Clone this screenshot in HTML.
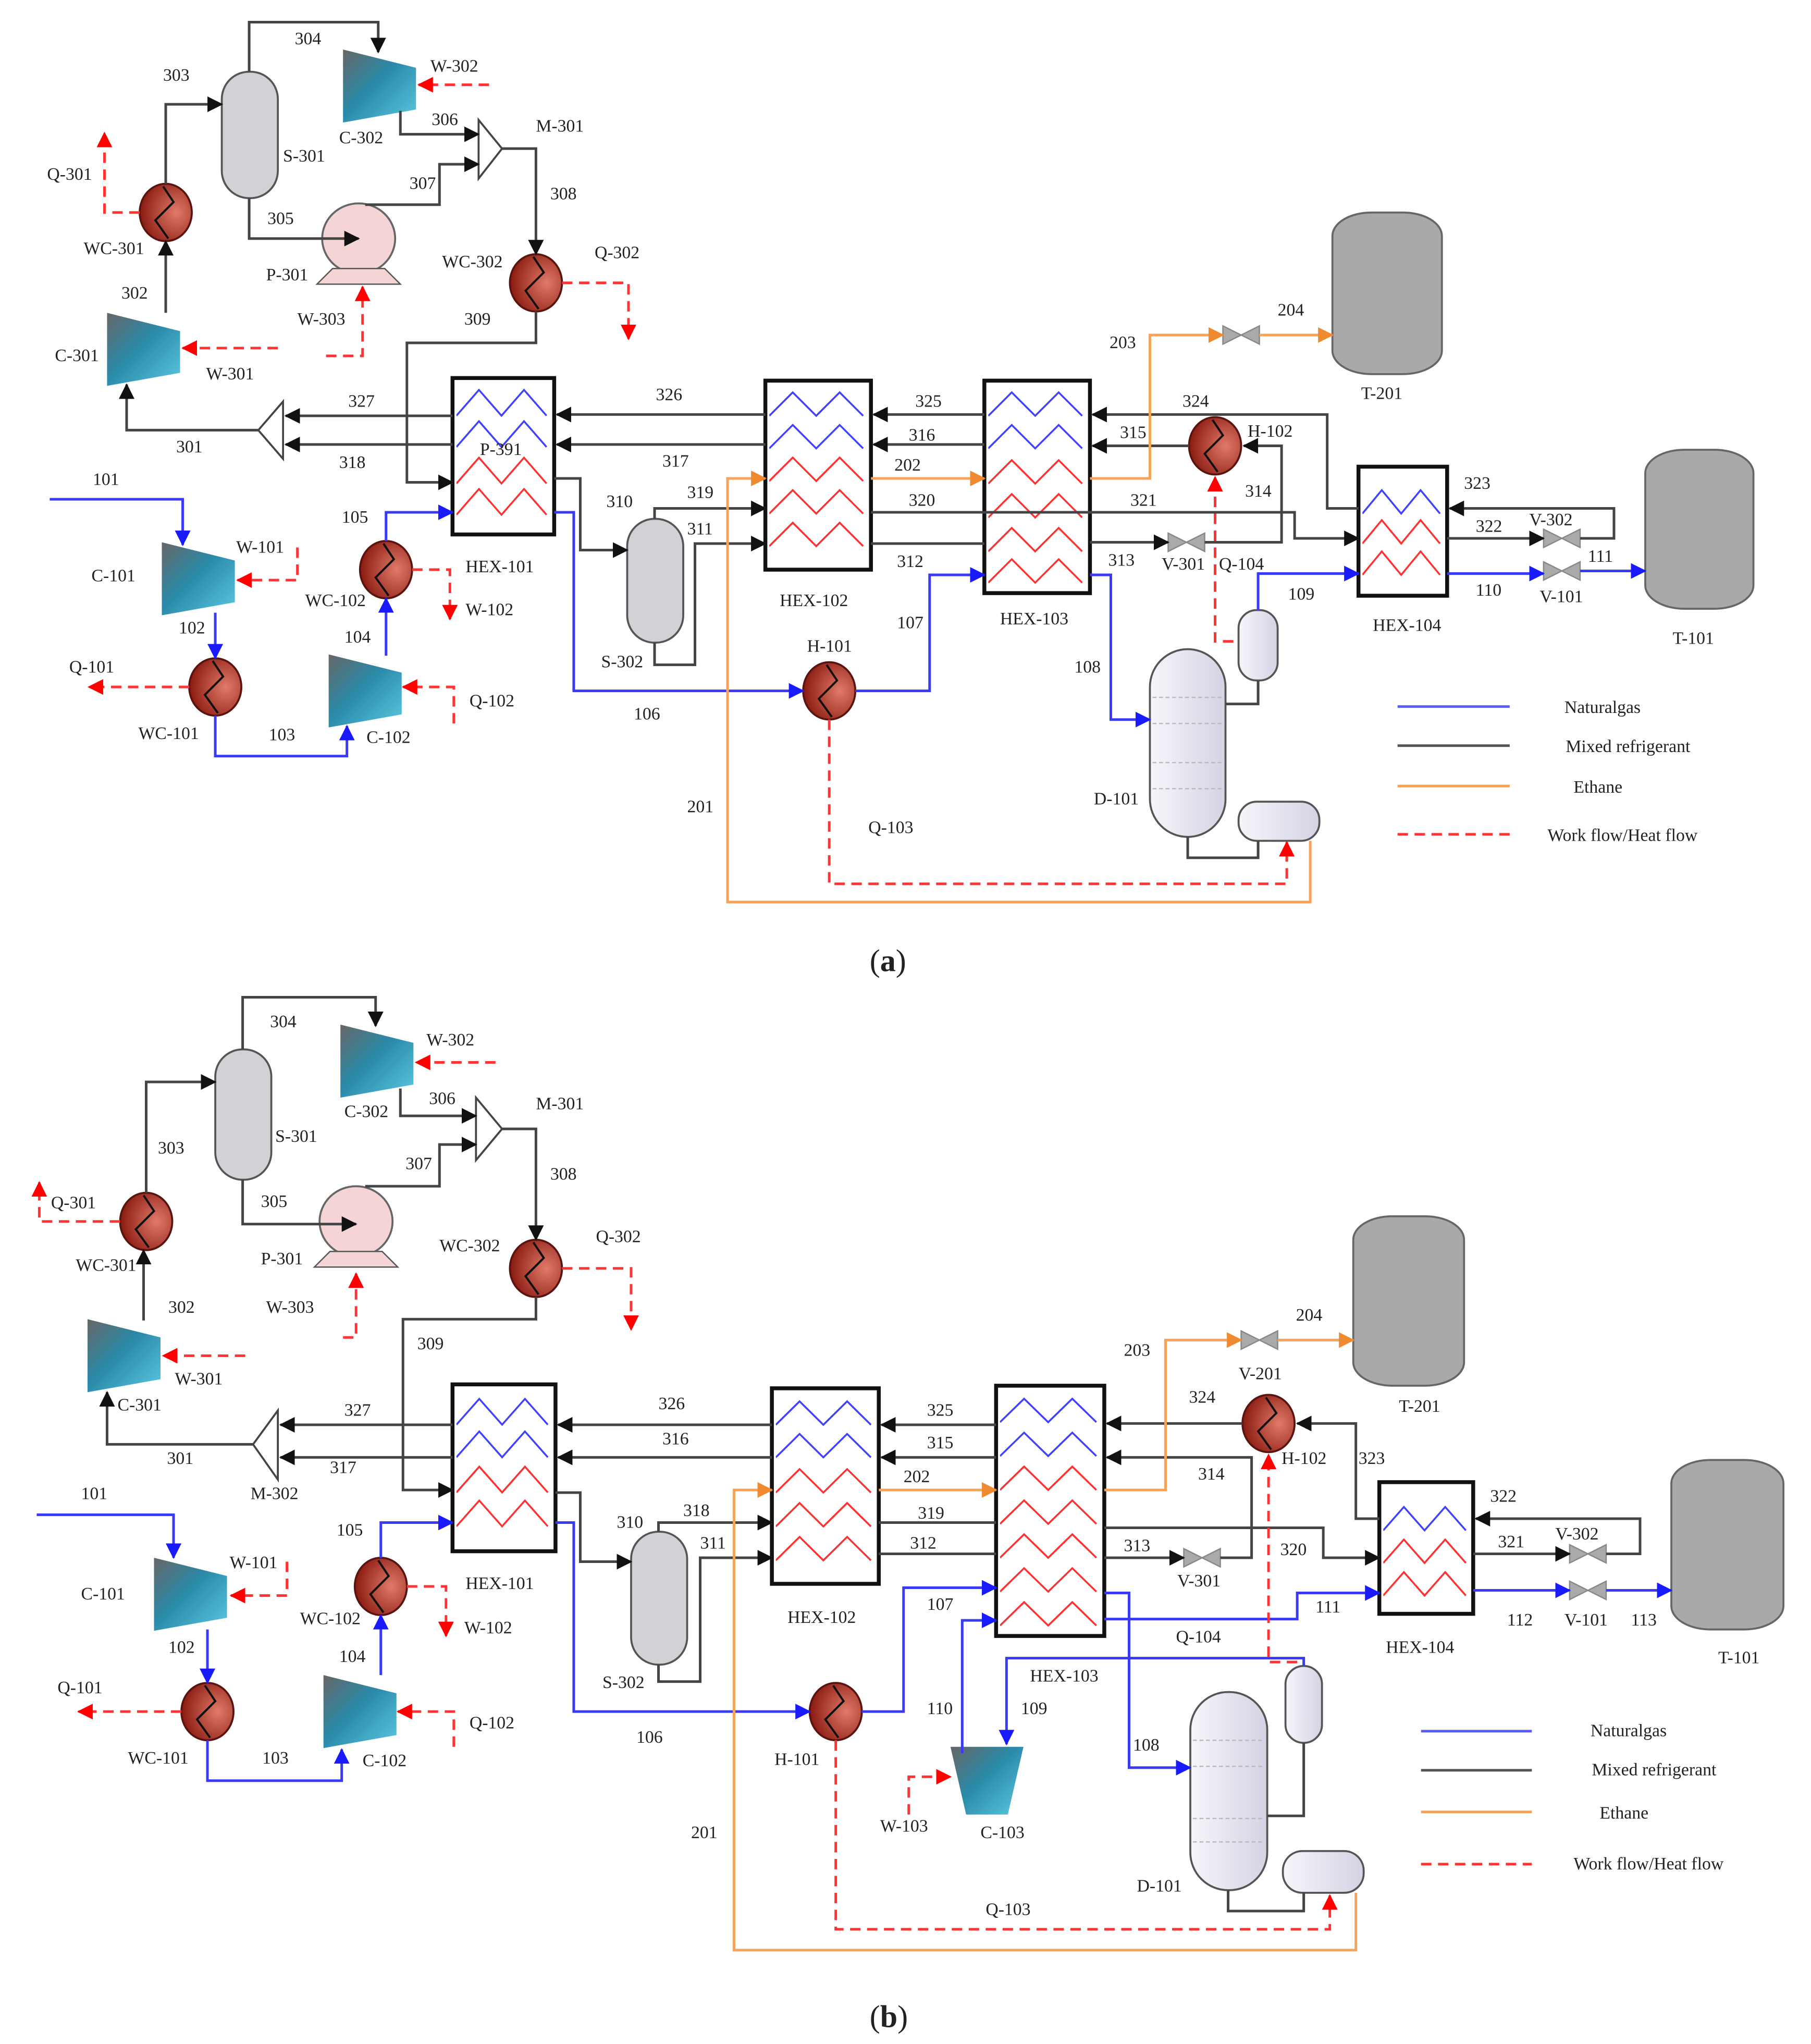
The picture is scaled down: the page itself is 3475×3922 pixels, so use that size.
<!DOCTYPE html>
<html><head><meta charset="utf-8"><style>
html,body{margin:0;padding:0;background:#fff}
svg{display:block}
text{font-family:"Liberation Serif",serif;font-size:13.5px;fill:#222}
.k{stroke:#444;stroke-width:2;fill:none}
.b{stroke:#3a3af5;stroke-width:2;fill:none}
.o{stroke:#f5a35a;stroke-width:2;fill:none}
.r{stroke:#f33;stroke-width:2;fill:none;stroke-dasharray:8,5}
.hex{fill:#fff;stroke:#111;stroke-width:3}
.tray{stroke:#bbb;stroke-width:1;stroke-dasharray:3,2}
</style></head><body>
<svg width="3475" height="3922" viewBox="0 0 1389 1568" xmlns="http://www.w3.org/2000/svg">
<defs>
<marker id="ab" markerWidth="12" markerHeight="12" refX="11" refY="6" orient="auto" markerUnits="userSpaceOnUse" viewBox="0 0 12 12"><path d="M0,0L12,6L0,12z" fill="#1a1aff"/></marker>
<marker id="ao" markerWidth="12" markerHeight="12" refX="11" refY="6" orient="auto" markerUnits="userSpaceOnUse" viewBox="0 0 12 12"><path d="M0,0L12,6L0,12z" fill="#f08a30"/></marker>
<marker id="ar" markerWidth="12" markerHeight="12" refX="11" refY="6" orient="auto" markerUnits="userSpaceOnUse" viewBox="0 0 12 12"><path d="M0,0L12,6L0,12z" fill="#f00"/></marker>
<marker id="ak2" markerWidth="12" markerHeight="12" refX="11" refY="6" orient="auto" markerUnits="userSpaceOnUse" viewBox="0 0 12 12"><path d="M0,0L12,6L0,12z" fill="#111"/></marker>
<linearGradient id="comp" x1="0" y1="0" x2="1" y2="1"><stop offset="0" stop-color="#666"/><stop offset="0.45" stop-color="#2a8aa8"/><stop offset="1" stop-color="#5cc8e0"/></linearGradient>
<radialGradient id="heat" cx="0.7" cy="0.5" r="0.7"><stop offset="0" stop-color="#e07a6a"/><stop offset="1" stop-color="#8a1a10"/></radialGradient>
<linearGradient id="dcol" x1="0" x2="1"><stop offset="0" stop-color="#f6f5fa"/><stop offset="1" stop-color="#d6d2e4"/></linearGradient>
<symbol id="zz" viewBox="0 0 100 20" preserveAspectRatio="none"><path d="M0,19L24,1L48,19L72,1L96,19" fill="none" stroke-width="3.5" vector-effect="non-scaling-stroke"/></symbol>
<g id="H"><ellipse cx="0" cy="0" rx="20" ry="22" fill="url(#heat)" stroke="#5a1410" stroke-width="1.5"/><path d="M-2,-20L6,-8L-8,6L2,20" fill="none" stroke="#111" stroke-width="1.6"/></g>
<g id="C"><path d="M0,0L56,14L56,46L0,56z" fill="url(#comp)"/></g>
<g id="CV"><path d="M0,0L56,0L44,52L12,52z" fill="url(#comp)"/></g>
<g id="V"><path d="M-14,-7L0,0L-14,7z M14,-7L0,0L14,7z" fill="#aaa" stroke="#888"/></g>
</defs>
<rect width="1389" height="1568" fill="#fff"/>

<!-- ===================== (a) ===================== -->
<rect x="170" y="55" width="43" height="97" rx="21" fill="#d2d2d6" stroke="#555" stroke-width="1.5"/>
<use href="#C" x="263" y="38"/>
<path d="M367,92L385,114L367,137z" fill="#fff" stroke="#444" stroke-width="1.5"/>
<ellipse cx="275" cy="183" rx="28" ry="27" fill="#f4d4d4" stroke="#666" stroke-width="1.5"/>
<path d="M255,206L295,206L307,218L243,218z" fill="#f4d4d4" stroke="#555"/>
<use href="#H" x="127" y="163"/>
<use href="#C" x="82" y="240"/>
<use href="#H" x="411" y="217"/>
<path d="M217,308L198,330L217,352z" fill="#fff" stroke="#444" stroke-width="1.5"/>
<rect class="hex" x="347" y="290" width="78" height="120"/>
<use href="#zz" x="350" y="298" width="72" height="22" stroke="#4040ff"/>
<use href="#zz" x="350" y="322" width="72" height="22" stroke="#4040ff"/>
<use href="#zz" x="350" y="350" width="72" height="22" stroke="#ff3030"/>
<use href="#zz" x="350" y="374" width="72" height="22" stroke="#ff3030"/>
<rect class="hex" x="587" y="292" width="81" height="145"/>
<use href="#zz" x="590" y="300" width="75" height="20" stroke="#4040ff"/>
<use href="#zz" x="590" y="325" width="75" height="20" stroke="#4040ff"/>
<use href="#zz" x="590" y="350" width="75" height="20" stroke="#ff3030"/>
<use href="#zz" x="590" y="375" width="75" height="20" stroke="#ff3030"/>
<use href="#zz" x="590" y="400" width="75" height="20" stroke="#ff3030"/>
<rect class="hex" x="755" y="292" width="81" height="163"/>
<use href="#zz" x="758" y="300" width="75" height="20" stroke="#4040ff"/>
<use href="#zz" x="758" y="325" width="75" height="20" stroke="#4040ff"/>
<use href="#zz" x="758" y="352" width="75" height="20" stroke="#ff3030"/>
<use href="#zz" x="758" y="378" width="75" height="20" stroke="#ff3030"/>
<use href="#zz" x="758" y="404" width="75" height="20" stroke="#ff3030"/>
<use href="#zz" x="758" y="428" width="75" height="20" stroke="#ff3030"/>
<use href="#H" x="932" y="342"/>
<rect class="hex" x="1042" y="358" width="68" height="99"/>
<use href="#zz" x="1045" y="375" width="62" height="20" stroke="#4040ff"/>
<use href="#zz" x="1045" y="398" width="62" height="20" stroke="#ff3030"/>
<use href="#zz" x="1045" y="422" width="62" height="20" stroke="#ff3030"/>
<rect x="1022" y="163" width="84" height="124" rx="30" ry="18" fill="#a9a9a9" stroke="#666" stroke-width="1.5"/>
<rect x="1262" y="345" width="83" height="122" rx="30" ry="18" fill="#a9a9a9" stroke="#666" stroke-width="1.5"/>
<rect x="481" y="398" width="43" height="95" rx="21" fill="#d2d2d6" stroke="#555" stroke-width="1.5"/>
<use href="#H" x="636" y="530"/>
<rect x="882" y="498" width="58" height="144" rx="29" fill="url(#dcol)" stroke="#555" stroke-width="1.5"/>
<path class="tray" d="M884,535H938M884,555H938M884,585H938M884,605H938"/>
<rect x="950" y="468" width="30" height="54" rx="14" fill="url(#dcol)" stroke="#555" stroke-width="1.5"/>
<rect x="950" y="615" width="62" height="30" rx="14" fill="url(#dcol)" stroke="#555" stroke-width="1.5"/>
<use href="#C" x="124" y="416"/>
<use href="#H" x="165" y="527"/>
<use href="#C" x="252" y="502"/>
<use href="#H" x="296" y="437"/>
<use href="#V" x="952" y="257"/>
<use href="#V" x="910" y="416"/>
<use href="#V" x="1198" y="413"/>
<use href="#V" x="1198" y="438"/>

<path class="k" d="M127,240V185" marker-end="url(#ak2)"/>
<path class="k" d="M127,141V80H170" marker-end="url(#ak2)"/>
<path class="k" d="M191,55V17H290V40" marker-end="url(#ak2)"/>
<path class="k" d="M191,152V183H275" marker-end="url(#ak2)"/>
<path class="k" d="M307,85V103H367" marker-end="url(#ak2)"/>
<path class="k" d="M280,157H337V126H367" marker-end="url(#ak2)"/>
<path class="k" d="M385,114H411V195" marker-end="url(#ak2)"/>
<path class="k" d="M411,239V263H312V370H347" marker-end="url(#ak2)"/>
<path class="k" d="M347,319H219" marker-end="url(#ak2)"/>
<path class="k" d="M347,341H219" marker-end="url(#ak2)"/>
<path class="k" d="M198,330H97V295" marker-end="url(#ak2)"/>
<path class="k" d="M587,318H427" marker-end="url(#ak2)"/>
<path class="k" d="M587,341H427" marker-end="url(#ak2)"/>
<path class="k" d="M755,318H670" marker-end="url(#ak2)"/>
<path class="k" d="M755,341H670" marker-end="url(#ak2)"/>
<path class="k" d="M1042,390H1018V318H838" marker-end="url(#ak2)"/>
<path class="k" d="M912,342H838" marker-end="url(#ak2)"/>
<path class="k" d="M836,416H896" marker-end="url(#ak2)"/>
<path class="k" d="M924,416H983V342H954" marker-end="url(#ak2)"/>
<path class="k" d="M668,393H993V413H1042" marker-end="url(#ak2)"/>
<path class="k" d="M668,417H755"/>
<path class="k" d="M1110,413H1184" marker-end="url(#ak2)"/>
<path class="k" d="M1212,413H1238V390H1112" marker-end="url(#ak2)"/>
<path class="k" d="M425,367H445V422H481" marker-end="url(#ak2)"/>
<path class="k" d="M502,398V390H587" marker-end="url(#ak2)"/>
<path class="k" d="M502,493V510H533V417H587" marker-end="url(#ak2)"/>
<path class="k" d="M911,642V658H965V645"/>
<path class="k" d="M940,540H965V522"/>
<path class="b" d="M38,383H140V418" marker-end="url(#ab)"/>
<path class="b" d="M165,470V505" marker-end="url(#ab)"/>
<path class="b" d="M165,549V580H266V557" marker-end="url(#ab)"/>
<path class="b" d="M296,503V459" marker-end="url(#ab)"/>
<path class="b" d="M296,415V393H347" marker-end="url(#ab)"/>
<path class="b" d="M425,393H440V530H616" marker-end="url(#ab)"/>
<path class="b" d="M656,530H713V441H755" marker-end="url(#ab)"/>
<path class="b" d="M836,441H852V552H882" marker-end="url(#ab)"/>
<path class="b" d="M965,468V440H1042" marker-end="url(#ab)"/>
<path class="b" d="M1110,440H1184" marker-end="url(#ab)"/>
<path class="b" d="M1212,438H1262" marker-end="url(#ab)"/>
<path class="o" d="M1005,645V692H558V367H587" marker-end="url(#ao)"/>
<path class="o" d="M668,367H755" marker-end="url(#ao)"/>
<path class="o" d="M836,367H882V257H938" marker-end="url(#ao)"/>
<path class="o" d="M966,257H1022" marker-end="url(#ao)"/>
<path class="r" d="M107,163H80V102" marker-end="url(#ar)"/>
<path class="r" d="M375,65H321" marker-end="url(#ar)"/>
<path class="r" d="M213,267H140" marker-end="url(#ar)"/>
<path class="r" d="M250,273H278V220" marker-end="url(#ar)"/>
<path class="r" d="M431,217H482V260" marker-end="url(#ar)"/>
<path class="r" d="M228,420V445H182" marker-end="url(#ar)"/>
<path class="r" d="M145,527H68" marker-end="url(#ar)"/>
<path class="r" d="M348,555V527H309" marker-end="url(#ar)"/>
<path class="r" d="M316,437H345V475" marker-end="url(#ar)"/>
<path class="r" d="M636,552V678H987V646" marker-end="url(#ar)"/>
<path class="r" d="M946,492H932V366" marker-end="url(#ar)"/>
<text x="125" y="62">303</text><text x="226" y="34">304</text><text x="330" y="55">W-302</text>
<text x="217" y="124">S-301</text><text x="260" y="110">C-302</text><text x="331" y="96">306</text>
<text x="411" y="101">M-301</text><text x="314" y="145">307</text><text x="422" y="153">308</text>
<text x="36" y="138">Q-301</text><text x="205" y="172">305</text><text x="64" y="195">WC-301</text>
<text x="204" y="215">P-301</text><text x="339" y="205">WC-302</text><text x="456" y="198">Q-302</text>
<text x="93" y="229">302</text><text x="228" y="249">W-303</text><text x="356" y="249">309</text>
<text x="42" y="277">C-301</text><text x="158" y="291">W-301</text>
<text x="267" y="312">327</text><text x="503" y="307">326</text><text x="702" y="312">325</text>
<text x="135" y="347">301</text><text x="260" y="359">318</text><text x="368" y="349" fill="#444">P-391</text>
<text x="508" y="358">317</text><text x="697" y="338">316</text><text x="859" y="336">315</text>
<text x="907" y="312">324</text><text x="957" y="335">H-102</text><text x="686" y="361">202</text>
<text x="71" y="372">101</text><text x="465" y="389">310</text><text x="527" y="382">319</text>
<text x="697" y="388">320</text><text x="867" y="388">321</text><text x="955" y="381">314</text>
<text x="1123" y="375">323</text><text x="1132" y="408">322</text><text x="1173" y="403">V-302</text>
<text x="262" y="401">105</text><text x="527" y="410">311</text><text x="181" y="424">W-101</text>
<text x="70" y="446">C-101</text><text x="357" y="439">HEX-101</text><text x="688" y="435">312</text>
<text x="850" y="434">313</text><text x="891" y="437">V-301</text><text x="935" y="437">Q-104</text>
<text x="1218" y="431">111</text><text x="1132" y="457">110</text><text x="1181" y="462">V-101</text>
<text x="234" y="465">WC-102</text><text x="357" y="472">W-102</text><text x="598" y="465">HEX-102</text>
<text x="767" y="479">HEX-103</text><text x="988" y="460">109</text><text x="1053" y="484">HEX-104</text>
<text x="137" y="486">102</text><text x="264" y="493">104</text><text x="688" y="482">107</text>
<text x="1283" y="494">T-101</text><text x="619" y="500">H-101</text>
<text x="53" y="516">Q-101</text><text x="824" y="516">108</text><text x="461" y="512">S-302</text>
<text x="360" y="542">Q-102</text><text x="486" y="552">106</text>
<text x="106" y="567">WC-101</text><text x="206" y="568">103</text><text x="281" y="570">C-102</text>
<text x="1044" y="306">T-201</text><text x="851" y="267">203</text><text x="980" y="242">204</text>
<text x="527" y="623">201</text><text x="666" y="639">Q-103</text><text x="839" y="617">D-101</text>
<path d="M1072,542H1158" stroke="#5a5aff" stroke-width="2"/>
<path d="M1072,572H1158" stroke="#555" stroke-width="2"/>
<path d="M1072,603H1158" stroke="#f5a35a" stroke-width="2"/>
<path class="r" d="M1072,640H1158"/>
<text x="1200" y="547">Naturalgas</text><text x="1201" y="577">Mixed refrigerant</text>
<text x="1207" y="608">Ethane</text><text x="1187" y="645">Work flow/Heat flow</text>
<text x="667" y="745" style="font-size:24px">(<tspan font-weight="bold">a</tspan>)</text>

<!-- ===================== (b) ===================== -->
<rect x="165" y="805" width="43" height="100" rx="21" fill="#d2d2d6" stroke="#555" stroke-width="1.5"/>
<use href="#C" x="261" y="786"/>
<path d="M365,842L385,866L365,890z" fill="#fff" stroke="#444" stroke-width="1.5"/>
<ellipse cx="273" cy="937" rx="28" ry="27" fill="#f4d4d4" stroke="#666" stroke-width="1.5"/>
<path d="M253,960L293,960L305,972L241,972z" fill="#f4d4d4" stroke="#555"/>
<use href="#H" x="112" y="937"/>
<use href="#C" x="67" y="1012"/>
<use href="#H" x="411" y="973"/>
<path d="M213,1082L194,1108L213,1135z" fill="#fff" stroke="#444" stroke-width="1.5"/>
<rect class="hex" x="347" y="1062" width="79" height="128"/>
<use href="#zz" x="350" y="1072" width="73" height="22" stroke="#4040ff"/>
<use href="#zz" x="350" y="1097" width="73" height="22" stroke="#4040ff"/>
<use href="#zz" x="350" y="1124" width="73" height="22" stroke="#ff3030"/>
<use href="#zz" x="350" y="1150" width="73" height="22" stroke="#ff3030"/>
<rect class="hex" x="592" y="1065" width="82" height="150"/>
<use href="#zz" x="595" y="1074" width="76" height="20" stroke="#4040ff"/>
<use href="#zz" x="595" y="1099" width="76" height="20" stroke="#4040ff"/>
<use href="#zz" x="595" y="1126" width="76" height="20" stroke="#ff3030"/>
<use href="#zz" x="595" y="1152" width="76" height="20" stroke="#ff3030"/>
<use href="#zz" x="595" y="1178" width="76" height="20" stroke="#ff3030"/>
<rect class="hex" x="764" y="1063" width="83" height="192"/>
<use href="#zz" x="767" y="1072" width="77" height="20" stroke="#4040ff"/>
<use href="#zz" x="767" y="1098" width="77" height="20" stroke="#4040ff"/>
<use href="#zz" x="767" y="1124" width="77" height="20" stroke="#ff3030"/>
<use href="#zz" x="767" y="1150" width="77" height="20" stroke="#ff3030"/>
<use href="#zz" x="767" y="1176" width="77" height="20" stroke="#ff3030"/>
<use href="#zz" x="767" y="1202" width="77" height="20" stroke="#ff3030"/>
<use href="#zz" x="767" y="1228" width="77" height="20" stroke="#ff3030"/>
<use href="#H" x="973" y="1092"/>
<rect class="hex" x="1058" y="1137" width="72" height="101"/>
<use href="#zz" x="1061" y="1155" width="66" height="20" stroke="#4040ff"/>
<use href="#zz" x="1061" y="1180" width="66" height="20" stroke="#ff3030"/>
<use href="#zz" x="1061" y="1205" width="66" height="20" stroke="#ff3030"/>
<rect x="1038" y="933" width="85" height="130" rx="30" ry="18" fill="#a9a9a9" stroke="#666" stroke-width="1.5"/>
<rect x="1282" y="1120" width="86" height="130" rx="30" ry="18" fill="#a9a9a9" stroke="#666" stroke-width="1.5"/>
<rect x="484" y="1175" width="43" height="102" rx="21" fill="#d2d2d6" stroke="#555" stroke-width="1.5"/>
<use href="#H" x="641" y="1313"/>
<use href="#CV" x="729" y="1340"/>
<rect x="913" y="1298" width="59" height="152" rx="29" fill="url(#dcol)" stroke="#555" stroke-width="1.5"/>
<path class="tray" d="M915,1335H970M915,1355H970M915,1395H970M915,1413H970"/>
<rect x="986" y="1278" width="28" height="59" rx="14" fill="url(#dcol)" stroke="#555" stroke-width="1.5"/>
<rect x="984" y="1420" width="62" height="32" rx="15" fill="url(#dcol)" stroke="#555" stroke-width="1.5"/>
<use href="#C" x="118" y="1195"/>
<use href="#H" x="159" y="1313"/>
<use href="#C" x="248" y="1285"/>
<use href="#H" x="292" y="1217"/>
<use href="#V" x="966" y="1028"/>
<use href="#V" x="922" y="1195"/>
<use href="#V" x="1218" y="1192"/>
<use href="#V" x="1218" y="1220"/>

<path class="k" d="M110,1013V959" marker-end="url(#ak2)"/>
<path class="k" d="M112,915V830H165" marker-end="url(#ak2)"/>
<path class="k" d="M186,805V765H288V787" marker-end="url(#ak2)"/>
<path class="k" d="M186,905V939H273" marker-end="url(#ak2)"/>
<path class="k" d="M307,835V856H365" marker-end="url(#ak2)"/>
<path class="k" d="M280,910H337V878H365" marker-end="url(#ak2)"/>
<path class="k" d="M385,866H411V951" marker-end="url(#ak2)"/>
<path class="k" d="M411,995V1012H309V1143H347" marker-end="url(#ak2)"/>
<path class="k" d="M347,1093H215" marker-end="url(#ak2)"/>
<path class="k" d="M347,1118H215" marker-end="url(#ak2)"/>
<path class="k" d="M194,1108H82V1068" marker-end="url(#ak2)"/>
<path class="k" d="M592,1093H428" marker-end="url(#ak2)"/>
<path class="k" d="M592,1118H428" marker-end="url(#ak2)"/>
<path class="k" d="M764,1093H676" marker-end="url(#ak2)"/>
<path class="k" d="M764,1118H676" marker-end="url(#ak2)"/>
<path class="k" d="M953,1092H849" marker-end="url(#ak2)"/>
<path class="k" d="M1058,1165H1040V1092H995" marker-end="url(#ak2)"/>
<path class="k" d="M847,1195H908" marker-end="url(#ak2)"/>
<path class="k" d="M936,1195H960V1118H849" marker-end="url(#ak2)"/>
<path class="k" d="M847,1172H1015V1195H1058" marker-end="url(#ak2)"/>
<path class="k" d="M1130,1192H1204" marker-end="url(#ak2)"/>
<path class="k" d="M1232,1192H1258V1165H1132" marker-end="url(#ak2)"/>
<path class="k" d="M426,1145H445V1198H484" marker-end="url(#ak2)"/>
<path class="k" d="M505,1175V1168H592" marker-end="url(#ak2)"/>
<path class="k" d="M505,1277V1290H537V1195H592" marker-end="url(#ak2)"/>
<path class="k" d="M674,1168H764"/>
<path class="k" d="M674,1192H764"/>
<path class="k" d="M942,1450V1466H1000V1452"/>
<path class="k" d="M972,1393H1000V1337"/>
<path class="b" d="M28,1162H133V1195" marker-end="url(#ab)"/>
<path class="b" d="M159,1250V1291" marker-end="url(#ab)"/>
<path class="b" d="M159,1335V1366H262V1342" marker-end="url(#ab)"/>
<path class="b" d="M292,1285V1239" marker-end="url(#ab)"/>
<path class="b" d="M292,1195V1168H347" marker-end="url(#ab)"/>
<path class="b" d="M426,1168H440V1313H621" marker-end="url(#ab)"/>
<path class="b" d="M661,1313H693V1218H764" marker-end="url(#ab)"/>
<path class="b" d="M738,1345V1243H764" marker-end="url(#ab)"/>
<path class="b" d="M847,1222H866V1356H913" marker-end="url(#ab)"/>
<path class="b" d="M1000,1278V1272H772V1338" marker-end="url(#ab)"/>
<path class="b" d="M847,1242H995V1222H1058" marker-end="url(#ab)"/>
<path class="b" d="M1130,1220H1204" marker-end="url(#ab)"/>
<path class="b" d="M1232,1220H1282" marker-end="url(#ab)"/>
<path class="o" d="M1040,1452V1496H563V1143H592" marker-end="url(#ao)"/>
<path class="o" d="M674,1143H764" marker-end="url(#ao)"/>
<path class="o" d="M847,1143H894V1028H952" marker-end="url(#ao)"/>
<path class="o" d="M980,1028H1038" marker-end="url(#ao)"/>
<path class="r" d="M92,937H30V907" marker-end="url(#ar)"/>
<path class="r" d="M380,815H319" marker-end="url(#ar)"/>
<path class="r" d="M188,1040H125" marker-end="url(#ar)"/>
<path class="r" d="M263,1026H273V977" marker-end="url(#ar)"/>
<path class="r" d="M431,973H484V1020" marker-end="url(#ar)"/>
<path class="r" d="M220,1198V1224H177" marker-end="url(#ar)"/>
<path class="r" d="M312,1217H342V1255" marker-end="url(#ar)"/>
<path class="r" d="M139,1313H60" marker-end="url(#ar)"/>
<path class="r" d="M348,1340V1313H305" marker-end="url(#ar)"/>
<path class="r" d="M697,1392V1363H729" marker-end="url(#ar)"/>
<path class="r" d="M641,1335V1480H1020V1454" marker-end="url(#ar)"/>
<path class="r" d="M995,1275H973V1116" marker-end="url(#ar)"/>

<text x="207" y="788">304</text><text x="327" y="802">W-302</text><text x="411" y="851">M-301</text>
<text x="211" y="876">S-301</text><text x="264" y="857">C-302</text><text x="329" y="847">306</text>
<text x="121" y="885">303</text><text x="311" y="897">307</text><text x="422" y="905">308</text>
<text x="200" y="926">305</text><text x="39" y="927">Q-301</text><text x="457" y="953">Q-302</text>
<text x="58" y="975">WC-301</text><text x="200" y="970">P-301</text><text x="337" y="960">WC-302</text>
<text x="129" y="1007">302</text><text x="204" y="1007">W-303</text><text x="320" y="1035">309</text>
<text x="134" y="1062">W-301</text><text x="90" y="1082">C-301</text>
<text x="264" y="1086">327</text><text x="505" y="1081">326</text><text x="711" y="1086">325</text>
<text x="128" y="1123">301</text><text x="253" y="1130">317</text><text x="508" y="1108">316</text>
<text x="711" y="1111">315</text><text x="912" y="1076">324</text><text x="983" y="1123">H-102</text>
<text x="1042" y="1123">323</text><text x="919" y="1135">314</text><text x="693" y="1137">202</text>
<text x="192" y="1150">M-302</text><text x="62" y="1150">101</text><text x="524" y="1163">318</text>
<text x="704" y="1165">319</text><text x="1143" y="1152">322</text><text x="1193" y="1181">V-302</text>
<text x="258" y="1178">105</text><text x="473" y="1172">310</text><text x="537" y="1188">311</text>
<text x="698" y="1188">312</text><text x="862" y="1190">313</text><text x="982" y="1193">320</text>
<text x="1149" y="1187">321</text><text x="176" y="1203">W-101</text><text x="62" y="1227">C-101</text>
<text x="357" y="1219">HEX-101</text><text x="903" y="1217">V-301</text><text x="711" y="1235">107</text>
<text x="1009" y="1237">111</text><text x="604" y="1245">HEX-102</text><text x="230" y="1246">WC-102</text>
<text x="356" y="1253">W-102</text><text x="1156" y="1247">112</text><text x="1200" y="1247">V-101</text>
<text x="1251" y="1247">113</text><text x="902" y="1260">Q-104</text><text x="129" y="1268">102</text>
<text x="1063" y="1268">HEX-104</text><text x="260" y="1275">104</text><text x="1318" y="1276">T-101</text>
<text x="790" y="1290">HEX-103</text><text x="462" y="1295">S-302</text><text x="44" y="1299">Q-101</text>
<text x="711" y="1315">110</text><text x="783" y="1315">109</text><text x="488" y="1337">106</text>
<text x="360" y="1326">Q-102</text><text x="869" y="1343">108</text><text x="98" y="1353">WC-101</text>
<text x="201" y="1353">103</text><text x="278" y="1355">C-102</text><text x="594" y="1354">H-101</text>
<text x="675" y="1405">W-103</text><text x="752" y="1410">C-103</text><text x="530" y="1410">201</text>
<text x="872" y="1451">D-101</text><text x="756" y="1469">Q-103</text>
<text x="1073" y="1083">T-201</text><text x="862" y="1040">203</text><text x="994" y="1013">204</text>
<text x="950" y="1058">V-201</text>
<path d="M1090,1328H1175" stroke="#5a5aff" stroke-width="2"/>
<path d="M1090,1358H1175" stroke="#555" stroke-width="2"/>
<path d="M1090,1390H1175" stroke="#f5a35a" stroke-width="2"/>
<path class="r" d="M1090,1430H1175"/>
<text x="1220" y="1332">Naturalgas</text><text x="1221" y="1362">Mixed refrigerant</text>
<text x="1227" y="1395">Ethane</text><text x="1207" y="1434">Work flow/Heat flow</text>
<text x="667" y="1555" style="font-size:24px">(<tspan font-weight="bold">b</tspan>)</text>
</svg>
</body></html>
